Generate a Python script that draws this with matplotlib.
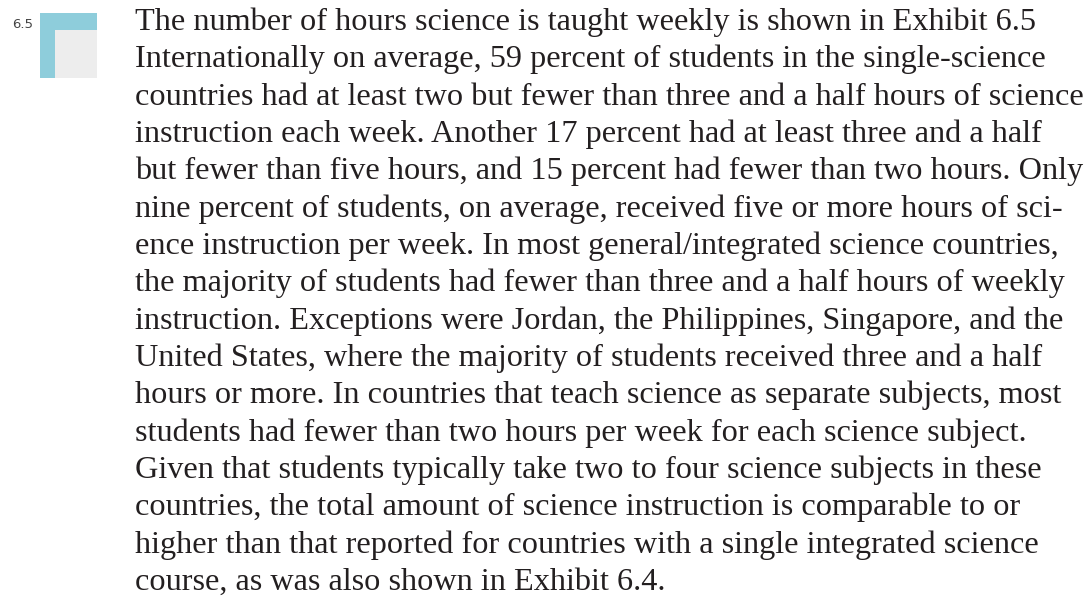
import matplotlib
matplotlib.use("Agg")
import matplotlib.pyplot as plt
from matplotlib.patches import Rectangle

# exhibit number and body text, one entry per printed line
exhibit_label = "6.5"
body_lines = [
    "The number of hours science is taught weekly is shown in Exhibit 6.5",
    "Internationally on average, 59 percent of students in the single-science",
    "countries had at least two but fewer than three and a half hours of science",
    "instruction each week. Another 17 percent had at least three and a half",
    "but fewer than five hours, and 15 percent had fewer than two hours. Only",
    "nine percent of students, on average, received five or more hours of sci-",
    "ence instruction per week. In most general/integrated science countries,",
    "the majority of students had fewer than three and a half hours of weekly",
    "instruction. Exceptions were Jordan, the Philippines, Singapore, and the",
    "United States, where the majority of students received three and a half",
    "hours or more. In countries that teach science as separate subjects, most",
    "students had fewer than two hours per week for each science subject.",
    "Given that students typically take two to four science subjects in these",
    "countries, the total amount of science instruction is comparable to or",
    "higher than that reported for countries with a single integrated science",
    "course, as was also shown in Exhibit 6.4.",
]

W, H = 1091, 597
fig = plt.figure(figsize=(W / 100, H / 100), dpi=100)
fig.patch.set_facecolor("white")

# pixel-coordinate overlay axes
ax = fig.add_axes([0, 0, 1, 1])
ax.set_xlim(0, W)
ax.set_ylim(H, 0)
ax.axis("off")

# icon: blue corner block with grey inner square
ax.add_patch(Rectangle((40, 13), 57, 65, facecolor="#8ecddb", edgecolor="none"))
ax.add_patch(Rectangle((55, 30), 42, 48, facecolor="#ededed", edgecolor="none"))
ax.text(33, 25, exhibit_label, ha="right", va="center", fontsize=9.5,
        color="#444444", family="DejaVu Sans")

# body text
base, pitch = 30, 37.33
for i, line in enumerate(body_lines):
    ax.text(135, base + i * pitch, line, ha="left", va="baseline",
            fontsize=23.2, color="#231f20", family="Liberation Serif")

fig.savefig("out.png", dpi=100)
